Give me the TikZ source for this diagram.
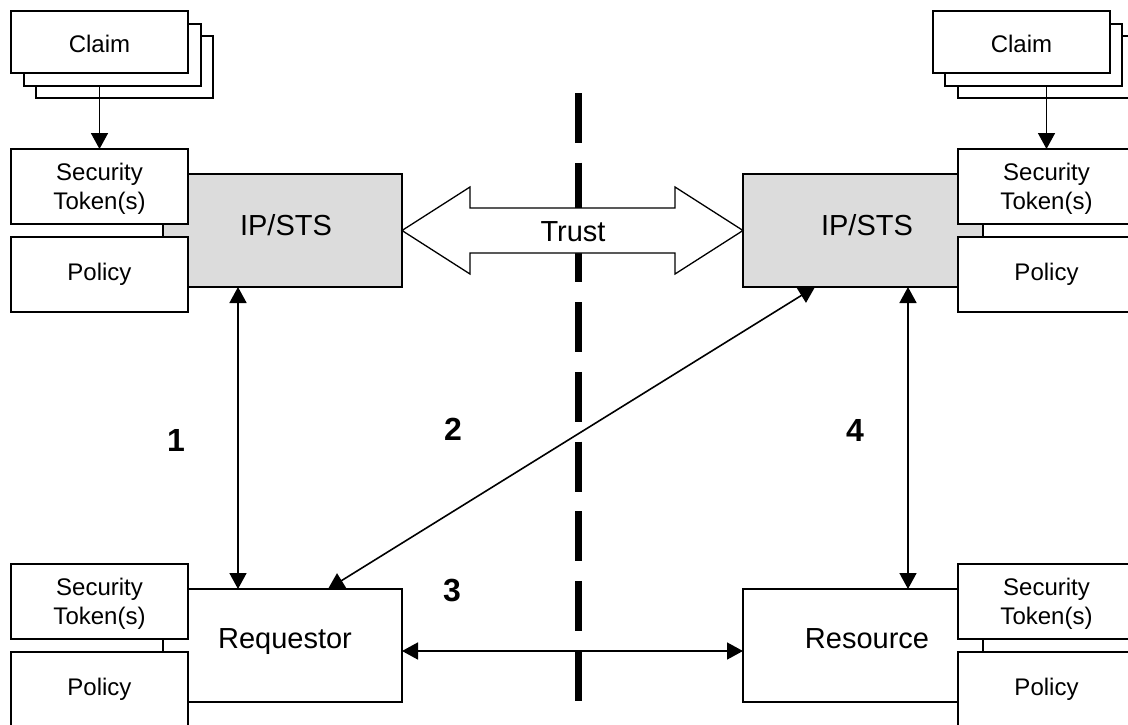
\documentclass[tikz,border=0pt]{standalone}
\usepackage{fontspec}
\setmainfont{Liberation Sans}
\usetikzlibrary{arrows.meta,calc}
\definecolor{boxgray}{RGB}{220,220,220}
\begin{document}
\begin{tikzpicture}[x=1pt,y=-1pt,
  box/.style={draw,line width=1.3pt,fill=white,inner sep=0pt,outer sep=0pt,anchor=north west},
  graybox/.style={box,fill=boxgray},
  smalltxt/.style={font=\fontsize{24}{28.5}\selectfont,align=center,inner sep=0pt},
  bigtxt/.style={font=\fontsize{29}{34}\selectfont,inner sep=0pt},
  lab/.style={font=\fontsize{32}{36}\selectfont\bfseries,inner sep=0pt},
  headtip/.tip={Triangle[width=17pt 0 0,length=16pt 0 0]},
  arr/.style={line width=1.6pt,-headtip},
  dbl/.style={line width=1.6pt,headtip-headtip},
  divider/.style={line width=6.5pt,dash pattern=on 50pt off 19.7pt}
]
\useasboundingbox (0,0) rectangle (1128,724);
\clip (0,0) rectangle (1128,724);
\fill[white] (0,0) rectangle (1128,724);

% dividing dashed line
\coordinate (dtop) at (578.5,93);
\coordinate (dbot) at (578.5,702);
\draw[divider] (dtop) -- (dbot);

% ---------- left top group ----------
\node[box,minimum width=177pt,minimum height=62pt] (cl3) at (36,36) {};
\node[box,minimum width=177pt,minimum height=62pt] (cl2) at (24,24) {};
\node[box,minimum width=177pt,minimum height=62pt] (cl1) at (11,11) {};
\node[smalltxt,anchor=base] (cl1t) at (99.5,52) {Claim};

\node[graybox,minimum width=239pt,minimum height=113pt] (ipl) at (163,174) {};
\node[box,minimum width=177pt,minimum height=75pt] (tl) at (11,149) {};
\node[box,minimum width=177pt,minimum height=75pt] (pl) at (11,237) {};
\node[smalltxt] (tlt) at (99.5,189) {Security\\Token(s)};
\node[smalltxt,anchor=base] (plt) at (99.5,280) {Policy};
\node[bigtxt,anchor=base] (iplt) at (286,235) {IP/STS};
\draw[arr] (cl2.south -| tl.north) -- (tl.north);

% ---------- right top group ----------
\node[box,minimum width=177pt,minimum height=62pt] (cr3) at (958,36) {};
\node[box,minimum width=177pt,minimum height=62pt] (cr2) at (945,24) {};
\node[box,minimum width=177pt,minimum height=62pt] (cr1) at (933,11) {};
\node[smalltxt,anchor=base] (cr1t) at (1021.5,52) {Claim};

\node[graybox,minimum width=240pt,minimum height=113pt] (ipr) at (743,174) {};
\node[box,minimum width=177pt,minimum height=75pt] (tr) at (958,149) {};
\node[box,minimum width=177pt,minimum height=75pt] (pr) at (958,237) {};
\node[smalltxt] (trt) at (1046.5,189) {Security\\Token(s)};
\node[smalltxt,anchor=base] (prt) at (1046.5,280) {Policy};
\node[bigtxt,anchor=base] (iprt) at (867,235) {IP/STS};
\draw[arr] (cr2.south -| tr.north) -- (tr.north);

% ---------- bottom left group ----------
\node[box,minimum width=239pt,minimum height=113pt] (req) at (163,589) {};
\node[box,minimum width=177pt,minimum height=75pt] (tbl) at (11,564) {};
\node[box,minimum width=177pt,minimum height=75pt] (pbl) at (11,652) {};
\node[smalltxt] (tblt) at (99.5,604) {Security\\Token(s)};
\node[smalltxt,anchor=base] (pblt) at (99.5,695) {Policy};
\node[bigtxt,anchor=base] (reqt) at (285,648) {Requestor};

% ---------- bottom right group ----------
\node[box,minimum width=240pt,minimum height=113pt] (res) at (743,589) {};
\node[box,minimum width=177pt,minimum height=75pt] (tbr) at (958,564) {};
\node[box,minimum width=177pt,minimum height=75pt] (pbr) at (958,652) {};
\node[smalltxt] (tbrt) at (1046.5,604) {Security\\Token(s)};
\node[smalltxt,anchor=base] (pbrt) at (1046.5,695) {Policy};
\node[bigtxt,anchor=base] (rest) at (867,648) {Resource};

% ---------- trust arrow ----------
\draw[line width=1.3pt,fill=white,line join=miter]
  (ipl.east) -- (470,187) -- (470,208) -- (675,208) -- (675,187) -- (ipr.west)
  -- (675,274) -- (675,253) -- (470,253) -- (470,274) -- cycle;
\node[bigtxt,anchor=base] (trust) at (573,241.5) {Trust};

% ---------- connectors ----------
\draw[dbl] ([xshift=-44.5pt]ipl.south) -- ([xshift=-44.5pt]req.north);
\draw[dbl] ([xshift=45.5pt]req.north) -- ([xshift=-48pt]ipr.south);
\draw[dbl] ([yshift=-5.5pt]req.east) -- ([yshift=-5.5pt]res.west);
\draw[dbl] ([xshift=45pt]ipr.south) -- ([xshift=45pt]res.north);

% ---------- step labels ----------
\node[lab] (l1) at (176,440) {1};
\node[lab] (l2) at (453,429) {2};
\node[lab] (l3) at (452,590) {3};
\node[lab] (l4) at (855,430) {4};
\end{tikzpicture}
\end{document}
